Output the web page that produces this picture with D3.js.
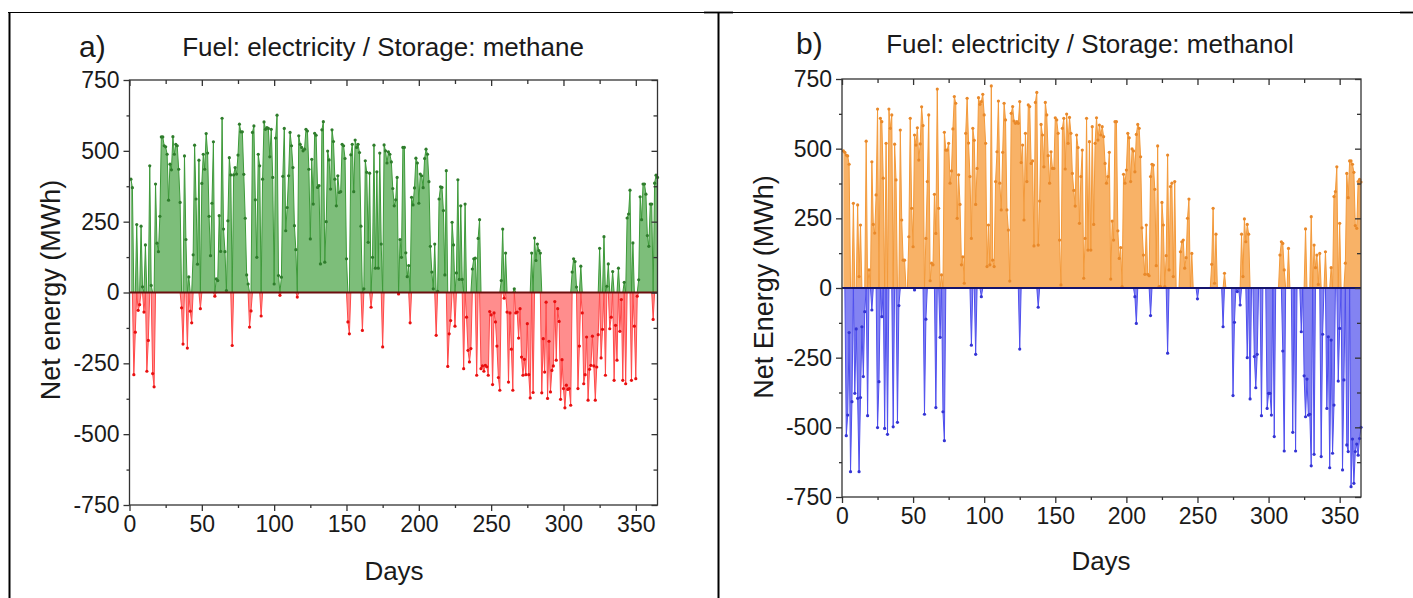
<!DOCTYPE html>
<html>
<head>
<meta charset="utf-8">
<script src="https://cdn.jsdelivr.net/npm/d3@7"></script>
<style>
  body { margin: 0; background: #fff; }
  svg { display: block; }
  text { font-family: "Liberation Sans", Arial, sans-serif; fill: #1a1a1a; }
</style>
</head>
<body>
<svg width="1413" height="598"></svg>
<script>
// a) daily net energy, MWh, day 1..365
let methane = [
  400, 370, -290, -140, 240, -63, -43, 234, 20, -69,
  168, -278, -169, 447, 25, -286, -333, 383, 174, 144,
  269, 549, 549, 518, 514, 488, 326, 453, 433, 550,
  488, 523, 518, 435, 318, -54, -182, 482, 187, -196,
  55, -66, -107, 133, 520, 330, 100, 467, -57, 385,
  488, 435, 561, 492, 269, 130, 315, 532, -13, 48,
  42, 271, 145, 615, 224, 144, 7, 253, 476, 415,
  -187, 415, 441, 418, 485, 594, 567, 567, 417, 262,
  62, 30, -122, -65, 565, 588, 327, 124, 488, 447,
  -83, 400, 602, 576, 582, 579, 479, 576, 406, 30,
  545, 626, 60, -10, 54, 410, 579, 218, 300, 412,
  565, 518, 441, 236, 151, -16, 553, 523, 512, 500,
  506, 576, 570, 435, 189, 470, 312, 562, 555, 371,
  377, 101, 574, 603, 107, 250, 499, 468, 365, 574,
  533, 400, 306, 412, 353, 356, 523, 518, 473, 119,
  -104, -146, 486, 523, 356, 538, 512, 523, 494, 234,
  -134, 13, 465, 424, 177, 421, -52, 124, 520, 86,
  426, 86, 492, 171, -192, 521, 500, 457, 496, 488,
  461, 367, 306, 327, 406, -5, 187, 124, 512, 512,
  140, 56, 95, -107, 336, 309, 369, 474, 457, 315,
  418, 412, 370, 473, 506, 488, 391, 163, 72, 13,
  171, -151, 4, 330, 373, 371, 289, 62, 430, -261,
  -146, -99, 248, 168, -119, 69, 398, 46, 306, 46,
  -269, 312, -87, -204, -245, -198, 83, 119, 121, -292,
  191, 257, -269, -259, -278, -257, -262, -292, -67, -79,
  -325, -72, -104, -189, -300, -345, 42, 224, -20, 139,
  -69, -316, -72, -200, -345, 13, -72, -69, -161, -57,
  -228, -292, -236, -290, -110, -290, -372, 139, -353, 192,
  113, 171, 148, 139, -354, -163, -281, -34, -374, -172,
  -351, -275, -259, -32, -239, -57, -102, -377, -237, -339,
  -407, -327, -342, -339, -398, 72, 119, 109, 19, -339,
  -189, 93, -72, -322, -290, -157, -380, -271, -257, -154,
  -259, -380, -263, -149, 156, -231, -130, 197, -292, 22,
  101, -128, -87, 74, -310, -116, -239, 86, -137, -25,
  -310, 36, -322, 263, 277, 361, -310, 175, -119, -304,
  -13, 45, 338, 257, 383, 383, 347, 201, 163, 312,
  312, -95, 386, 414, 406
]

// b) surplus and deficit, MWh, day 1..365
let methanol_surplus = [
  492, 487, 477, 474, 444, 0, 0, 304, 0, 0,
  298, 41, 226, 0, 0, 0, 527, 0, 65, 0,
  453, 228, 197, 334, 642, 0, 609, 597, 394, 0,
  519, 0, 642, 573, 621, 0, 516, 388, 0, 0,
  567, 244, 100, 100, 0, 0, 184, 609, 286, 148,
  549, 513, 575, 459, 517, 650, 583, 0, 178, 382,
  621, 26, 89, 83, 336, 196, 714, 286, 0, 47,
  0, 559, 495, 495, 519, 376, 420, 571, 687, 663,
  250, 406, 300, 83, 112, 17, 555, 681, 520, 400,
  178, 573, 530, 300, 429, 683, 659, 669, 695, 621,
  519, 77, 226, 83, 725, 100, 77, 382, 489, 671,
  376, 280, 487, 663, 603, 280, 208, 25, 627, 651,
  599, 591, 597, 591, 669, 450, 513, 244, 555, 382,
  657, 651, 447, 456, 151, 666, 702, 154, 312, 587,
  549, 435, 666, 621, 475, 376, 489, 429, 429, 611,
  603, 555, 172, 11, 573, 609, 427, 624, 519, 612,
  555, 411, 350, 294, 549, 504, 232, 400, 495, 35,
  178, 609, 136, 525, 136, 579, 228, 519, 611, 531,
  585, 549, 579, 543, 447, 376, 400, 487, 32, 240,
  172, 597, 597, 205, 106, 145, 5, 408, 376, 423,
  555, 539, 382, 499, 492, 417, 551, 587, 573, 471,
  216, 118, 49, 226, 49, 44, 400, 444, 441, 354,
  80, 510, 5, 5, 307, 226, 5, 116, 477, 65,
  364, 376, 41, 382, 0, 0, 0, 130, 166, 172,
  71, 109, 250, 319, 0, 124, 0, 0, 0, 0,
  0, 0, 0, 0, 0, 0, 0, 0, 0, 85,
  286, 17, 193, 0, 0, 0, 0, 0, 53, 0,
  0, 0, 0, 0, 0, 0, 0, 0, 0, 0,
  193, 41, 248, 166, 228, 193, 0, 0, 0, 0,
  0, 0, 0, 0, 0, 0, 0, 0, 0, 0,
  0, 0, 0, 0, 0, 0, 0, 118, 166, 160,
  65, 0, 0, 142, 0, 0, 0, 0, 0, 0,
  0, 0, 0, 0, 0, 212, 0, 0, 0, 256,
  0, 154, 73, 118, 13, 124, 0, 0, 0, 130,
  0, 0, 0, 73, 0, 328, 346, 435, 0, 232,
  0, 0, 0, 89, 411, 324, 456, 456, 444, 415,
  224, 214, 382, 390, 380
]

let methanol_deficit = [
  0, 0, -530, -456, -160, -659, -408, 0, -378, -147,
  -396, -659, -393, -139, -318, -85, 0, -458, 0, 0,
  -79, 0, 0, 0, -501, -336, 0, -103, 0, -504,
  0, -525, 0, 0, 0, -498, 0, 0, -482, -63,
  0, 0, 0, 0, 0, 0, 0, 0, 0, 0,
  -7, 0, 0, 0, 0, 0, 0, -453, -112, 0,
  0, 0, 0, 0, 0, -429, 0, 0, -177, 0,
  -444, -548, 0, 0, 0, 0, 0, 0, 0, 0,
  0, 0, 0, 0, 0, 0, 0, 0, 0, 0,
  -205, 0, 0, -238, 0, 0, 0, -31, 0, 0,
  0, 0, 0, 0, 0, 0, 0, 0, 0, 0,
  0, 0, 0, 0, 0, 0, 0, 0, 0, 0,
  0, 0, 0, 0, -219, 0, 0, 0, 0, 0,
  0, 0, 0, 0, 0, 0, 0, -69, 0, 0,
  0, 0, 0, 0, 0, 0, 0, 0, 0, 0,
  0, 0, 0, 0, 0, 0, 0, 0, 0, 0,
  0, 0, 0, 0, 0, 0, 0, 0, 0, 0,
  0, 0, 0, 0, 0, 0, 0, 0, 0, 0,
  0, 0, 0, 0, 0, 0, 0, 0, 0, 0,
  0, 0, 0, 0, 0, 0, 0, 0, 0, 0,
  0, 0, 0, 0, 0, -31, -127, 0, 0, 0,
  0, 0, 0, 0, 0, 0, -99, 0, 0, 0,
  0, 0, 0, 0, 0, 0, 0, 0, -234, 0,
  0, 0, 0, 0, 0, 0, 0, 0, 0, 0,
  0, 0, 0, 0, 0, 0, 0, 0, 0, -39,
  0, 0, 0, 0, 0, 0, 0, 0, 0, 0,
  0, 0, 0, 0, 0, 0, 0, -139, 0, 0,
  0, 0, 0, 0, -386, -123, 0, -13, 0, -61,
  0, 0, 0, 0, -250, 0, -398, 0, 0, -246,
  -358, -238, 0, 0, -458, 0, 0, 0, -432, -378,
  -378, -456, 0, -533, 0, 0, 0, 0, 0, -226,
  -585, 0, 0, 0, 0, 0, -518, 0, -585, 0,
  0, 0, -157, 0, -315, -462, -327, -456, -453, -638,
  0, -597, 0, 0, 0, 0, -605, -166, 0, 0,
  -432, -175, -645, -187, -593, -420, 0, 0, -334, -145,
  0, -653, -330, 0, -563, -587, 0, -713, -542, -701,
  -587, -560, -600, -540, -500
]

let y_ticks = [-750, -500, -250, 0, 250, 500, 750],
  y_minor = [-625, -375, -125, 125, 375, 625],
  x_ticks = [0, 50, 100, 150, 200, 250, 300, 350],
  x_minor = [25, 75, 125, 175, 225, 275, 325]

let panels = [
  {
    pos_values: methane.map(v => Math.max(v, 0)),
    neg_values: methane.map(v => Math.min(v, 0)),
    letter: "a)", title: "Fuel: electricity / Storage: methane",
    ylabel: "Net energy (MWh)",
    left: 129.5, right: 657.5, top: 80, bottom: 505,
    pos: { fill: "#7dbe7a", line: "#3e9a3a", dot: "#2f7d2c" },
    neg: { fill: "#ff8d8d", line: "#ff4a4a", dot: "#e81010" },
    zero: "#6b0f0f",
    letter_at: [79, 57], title_at: [383, 56], ylabel_at: [51, 290], xlabel_at: [394, 580]
  },
  {
    pos_values: methanol_surplus,
    neg_values: methanol_deficit,
    letter: "b)", title: "Fuel: electricity / Storage: methanol",
    ylabel: "Net Energy (MWh)",
    left: 842, right: 1361, top: 79, bottom: 497,
    pos: { fill: "#f8b267", line: "#f39a3b", dot: "#e9892a" },
    neg: { fill: "#8383f2", line: "#4f4fee", dot: "#3434d4" },
    zero: "#14146e",
    letter_at: [796, 54], title_at: [1090, 53], ylabel_at: [764, 287], xlabel_at: [1101, 570]
  }
]

function draw_table(svg) {
  let g = svg.append("g").attr("stroke", "#000")
  g.append("line").attr("x1", 8).attr("x2", 1413).attr("y1", 12.5).attr("y2", 12.5).attr("stroke-width", 1.2)
  g.append("line").attr("x1", 9.5).attr("x2", 9.5).attr("y1", 12).attr("y2", 598).attr("stroke-width", 2)
  g.append("line").attr("x1", 718.5).attr("x2", 718.5).attr("y1", 12).attr("y2", 598).attr("stroke-width", 2)
  g.append("line").attr("x1", 704).attr("x2", 733).attr("y1", 12.5).attr("y2", 12.5).attr("stroke-width", 1.8)
  g.append("line").attr("x1", 1400).attr("x2", 1413).attr("y1", 12.5).attr("y2", 12.5).attr("stroke-width", 1.8)
}

function draw_panel(svg, p) {
  let x = d3.scaleLinear().domain([0, 365]).range([p.left, p.right]),
    y = d3.scaleLinear().domain([-750, 750]).range([p.bottom, p.top])
  let g = svg.append("g")

  let series = [
    { style: p.pos, data: p.pos_values.map((v, i) => ({ day: i + 1, v: v })) },
    { style: p.neg, data: p.neg_values.map((v, i) => ({ day: i + 1, v: v })) }
  ]

  series.forEach(s => {
    g.append("path")
      .datum(s.data)
      .attr("fill", s.style.fill)
      .attr("d", d3.area().x(d => x(d.day)).y0(y(0)).y1(d => y(d.v)))
  })
  series.forEach(s => {
    g.append("path")
      .datum(s.data)
      .attr("fill", "none")
      .attr("stroke", s.style.line)
      .attr("stroke-width", 1)
      .attr("d", d3.line().x(d => x(d.day)).y(d => y(d.v)))
    g.append("g")
      .selectAll("circle")
      .data(s.data.filter(d => d.v != 0)).enter()
      .append("circle")
      .attr("cx", d => x(d.day))
      .attr("cy", d => y(d.v))
      .attr("r", 1.6)
      .attr("fill", s.style.dot)
  })

  g.append("line")
    .attr("x1", p.left).attr("x2", p.right)
    .attr("y1", y(0)).attr("y2", y(0))
    .attr("stroke", p.zero).attr("stroke-width", 2.2)

  g.append("rect")
    .attr("x", p.left).attr("y", p.top)
    .attr("width", p.right - p.left).attr("height", p.bottom - p.top)
    .attr("fill", "none").attr("stroke", "#333").attr("stroke-width", 1.3)

  let fmt = d => String(d)
  let axes = [
    [d3.axisBottom(x).tickValues(x_ticks).tickSize(6).tickPadding(5).tickFormat(fmt), `translate(0,${p.bottom})`, true],
    [d3.axisBottom(x).tickValues(x_minor).tickSize(3).tickFormat(""), `translate(0,${p.bottom})`, false],
    [d3.axisTop(x).tickValues(x_ticks).tickSize(-6).tickFormat(""), `translate(0,${p.top})`, false],
    [d3.axisTop(x).tickValues(x_minor).tickSize(-4).tickFormat(""), `translate(0,${p.top})`, false],
    [d3.axisLeft(y).tickValues(y_ticks).tickSize(6).tickPadding(4).tickFormat(fmt), `translate(${p.left},0)`, true],
    [d3.axisLeft(y).tickValues(y_minor).tickSize(3).tickFormat(""), `translate(${p.left},0)`, false],
    [d3.axisRight(y).tickValues(y_ticks).tickSize(-6).tickFormat(""), `translate(${p.right},0)`, false],
    [d3.axisRight(y).tickValues(y_minor).tickSize(-4).tickFormat(""), `translate(${p.right},0)`, false]
  ]
  axes.forEach(([axis, tr, labelled]) => {
    let a = g.append("g").attr("transform", tr).call(axis)
    a.select(".domain").remove()
    a.selectAll("line").attr("stroke", "#333").attr("stroke-width", 1.3)
    if (labelled) a.selectAll("text").attr("font-size", 23).attr("fill", "#1a1a1a")
      .attr("font-family", "Liberation Sans, Arial, sans-serif")
  })

  g.append("text").attr("x", p.letter_at[0]).attr("y", p.letter_at[1])
    .attr("font-size", 30).text(p.letter)
  g.append("text").attr("x", p.title_at[0]).attr("y", p.title_at[1])
    .attr("text-anchor", "middle").attr("font-size", 26).text(p.title)
  g.append("text")
    .attr("transform", `translate(${p.ylabel_at[0]},${p.ylabel_at[1]}) rotate(-90)`)
    .attr("text-anchor", "middle").attr("dy", "0.35em").attr("font-size", 27).text(p.ylabel)
  g.append("text").attr("x", p.xlabel_at[0]).attr("y", p.xlabel_at[1])
    .attr("text-anchor", "middle").attr("font-size", 26).text("Days")
}

let svg = d3.select("svg")
draw_table(svg)
panels.forEach(p => draw_panel(svg, p))
</script>
</body>
</html>
